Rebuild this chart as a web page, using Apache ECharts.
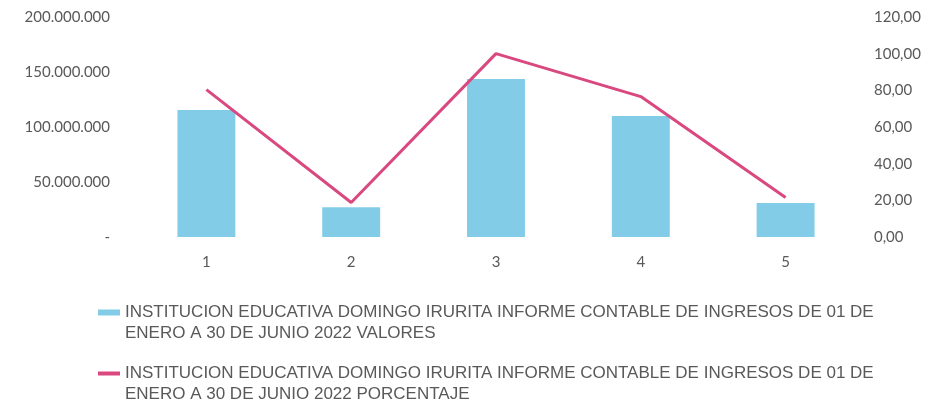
<!DOCTYPE html>
<html>
<head>
<meta charset="utf-8">
<script src="https://cdn.jsdelivr.net/npm/echarts@6/dist/echarts.min.js"></script>
<style>
  html, body { margin: 0; padding: 0; background: #fff; }
  #chart { width: 930px; height: 404px; }
</style>
</head>
<body>
<div id="chart"></div>
<script>
// categorias y valores
var categories = ['1', '2', '3', '4', '5'];
var valores = [115500000, 27000000, 143600000, 110000000, 31000000];
var porcentaje = [80.4, 18.8, 100, 76.6, 21.6];
var nombreValores = 'INSTITUCION EDUCATIVA DOMINGO IRURITA INFORME CONTABLE DE INGRESOS DE 01 DE\nENERO A 30 DE JUNIO 2022 VALORES';
var nombrePorcentaje = 'INSTITUCION EDUCATIVA DOMINGO IRURITA INFORME CONTABLE DE INGRESOS DE 01 DE\nENERO A 30 DE JUNIO 2022 PORCENTAJE';

var fontColor = '#595959';
var barColor = '#82cce8';
var lineColor = '#d9487f';

function miles(v) {
  if (v === 0) return '-';
  return String(v).replace(/\B(?=(\d{3})+(?!\d))/g, '.');
}

// linea vacia arriba para que el icono quede a la altura de la primera linea
function textoLeyenda(name) {
  return ' \n' + name;
}

var legendText = {
  fontFamily: 'Liberation Sans, Arial, sans-serif',
  fontSize: 17,
  lineHeight: 21,
  color: fontColor
};

var chart = echarts.init(document.getElementById('chart'));
var option = {
  animation: false,
  grid: { left: 134, right: 72, top: 17, bottom: 167 },
  legend: [{
    left: 93,
    top: 276,
    itemWidth: 22,
    itemHeight: 6,
    formatter: textoLeyenda,
    textStyle: legendText,
    data: [{ name: nombreValores, icon: 'rect' }]
  }, {
    left: 93,
    top: 337,
    itemWidth: 22,
    itemHeight: 4,
    formatter: textoLeyenda,
    textStyle: legendText,
    data: [{ name: nombrePorcentaje, icon: 'rect' }]
  }],
  xAxis: {
    type: 'category',
    data: categories,
    axisLine: { show: false },
    axisTick: { show: false },
    axisLabel: { color: fontColor, fontSize: 15, margin: 18, fontFamily: 'Lato, sans-serif' }
  },
  yAxis: [{
    type: 'value',
    min: 0,
    max: 200000000,
    interval: 50000000,
    splitLine: { show: false },
    axisLabel: {
      color: fontColor, fontSize: 15, margin: 24, fontFamily: 'Lato, sans-serif',
      formatter: miles
    }
  }, {
    type: 'value',
    min: 0,
    max: 120,
    interval: 20,
    splitLine: { show: false },
    axisLabel: {
      color: fontColor, fontSize: 15, margin: 16, fontFamily: 'Lato, sans-serif',
      formatter: function (v) { return v.toFixed(2).replace('.', ','); }
    }
  }],
  series: [{
    name: nombreValores,
    type: 'bar',
    barWidth: '40%',
    itemStyle: { color: barColor },
    data: valores
  }, {
    name: nombrePorcentaje,
    type: 'line',
    yAxisIndex: 1,
    symbol: 'none',
    lineStyle: { color: lineColor, width: 3 },
    itemStyle: { color: lineColor },
    data: porcentaje
  }]
};
chart.setOption(option);
</script>
</body>
</html>
